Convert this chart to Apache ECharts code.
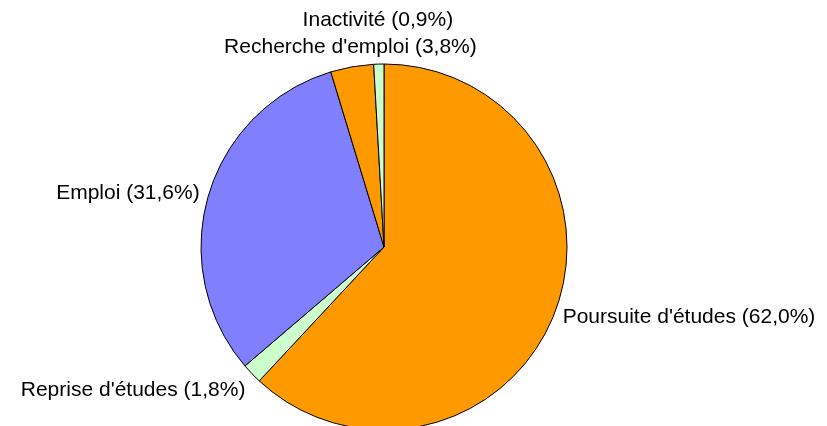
<!DOCTYPE html>
<html>
<head>
<meta charset="utf-8">
<script src="https://cdn.jsdelivr.net/npm/echarts@6/dist/echarts.min.js"></script>
<style>
  html, body { margin: 0; padding: 0; background: #fff; }
  #chart { width: 827px; height: 426px; }
</style>
</head>
<body>
<div id="chart"></div>
<script>
  // slices, clockwise from 12 o'clock
  const categories = ['Poursuite d\'études', 'Reprise d\'études', 'Emploi', 'Recherche d\'emploi', 'Inactivité']
  const values = [62.0, 1.8, 31.6, 3.8, 0.9]
  const colors = ['#FF9900', '#CCFFCC', '#8080FF', '#FF9900', '#CCFFCC']

  const cx = 384
  const cy = 247
  const radius = 183

  const total = values.reduce((a, b) => a + b, 0)

  // middle angle of each slice (radians, clockwise from top)
  function midAngle(idx) {
    let acc = 0
    for (let i = 0; i < idx; i++) acc += values[i]
    return (acc + values[idx] / 2) / total * Math.PI * 2
  }

  const chart = echarts.init(document.getElementById('chart'))
  chart.setOption({
    animation: false,
    series: [{
      type: 'pie',
      center: [cx, cy],
      radius: radius,
      startAngle: 90,
      clockwise: true,
      avoidLabelOverlap: false,
      emphasis: { disabled: true },
      itemStyle: { borderColor: '#000', borderWidth: 1 },
      label: {
        show: true,
        position: 'outside',
        color: '#000',
        fontFamily: 'Liberation Sans, Arial, sans-serif',
        fontSize: 21,
        formatter: p => p.name + ' (' + values[p.dataIndex].toFixed(1).replace('.', ',') + '%)'
      },
      labelLine: { show: false },
      labelLayout: function (params) {
        const i = params.dataIndex
        const a = midAngle(i)
        const s = Math.sin(a)
        const c = Math.cos(a)
        // tiny last slice: its label sits above its neighbour's
        const r = radius + (i === 4 ? 33 : 9)
        return {
          x: cx + s * r,
          y: cy - c * r,
          align: Math.abs(s) < 0.35 ? 'center' : (s > 0 ? 'left' : 'right'),
          verticalAlign: Math.abs(c) < 0.5 ? 'middle' : (c > 0 ? 'bottom' : 'top')
        }
      },
      data: categories.map((name, i) => ({
        name: name,
        value: values[i],
        itemStyle: { color: colors[i] }
      }))
    }]
  })
</script>
</body>
</html>
